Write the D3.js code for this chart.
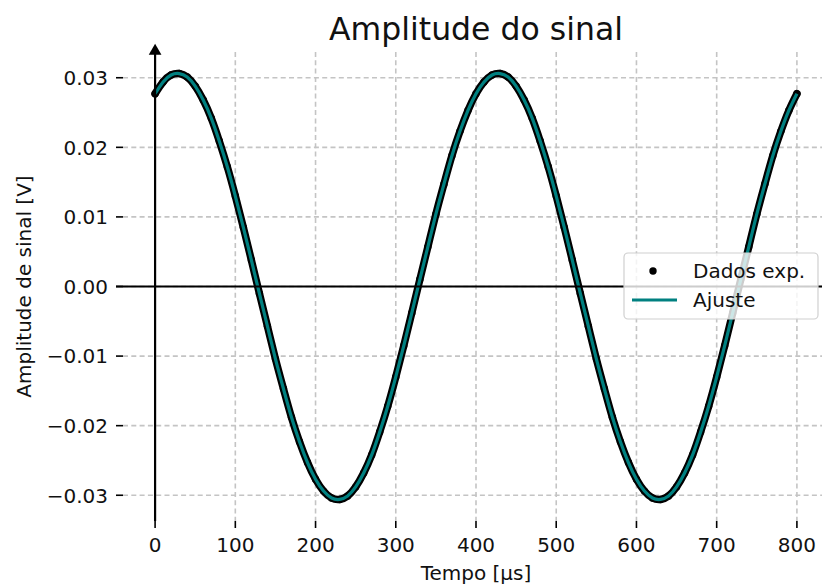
<!DOCTYPE html>
<html>
<head>
<meta charset="utf-8">
<script src="https://cdn.jsdelivr.net/npm/d3@7"></script>
<style>
  body { margin: 0; background: #fff; }
  svg { display: block; font-family: "DejaVu Sans", sans-serif; }
</style>
</head>
<body>
<div id="chart"></div>
<script>
// tempo [µs]
const tempo = [
  0, 10, 20, 30, 40, 50, 60, 70, 80, 90,
  100, 110, 120, 130, 140, 150, 160, 170, 180, 190,
  200, 210, 220, 230, 240, 250, 260, 270, 280, 290,
  300, 310, 320, 330, 340, 350, 360, 370, 380, 390,
  400, 410, 420, 430, 440, 450, 460, 470, 480, 490,
  500, 510, 520, 530, 540, 550, 560, 570, 580, 590,
  600, 610, 620, 630, 640, 650, 660, 670, 680, 690,
  700, 710, 720, 730, 740, 750, 760, 770, 780, 790,
  800
];

// amplitude [V]
const dadosExp = [
  0.0277, 0.0294, 0.0304, 0.0306, 0.0301, 0.0288, 0.0268, 0.0242, 0.0209, 0.0172,
  0.0130, 0.0085, 0.0038, -0.0010, -0.0057, -0.0104, -0.0147, -0.0188, -0.0223, -0.0253,
  -0.0277, -0.0294, -0.0304, -0.0306, -0.0301, -0.0288, -0.0268, -0.0242, -0.0209, -0.0172,
  -0.0130, -0.0085, -0.0038, 0.0010, 0.0057, 0.0104, 0.0147, 0.0188, 0.0223, 0.0253,
  0.0277, 0.0294, 0.0304, 0.0306, 0.0301, 0.0288, 0.0268, 0.0242, 0.0209, 0.0172,
  0.0130, 0.0085, 0.0038, -0.0010, -0.0057, -0.0104, -0.0147, -0.0188, -0.0223, -0.0253,
  -0.0277, -0.0294, -0.0304, -0.0306, -0.0301, -0.0288, -0.0268, -0.0242, -0.0209, -0.0172,
  -0.0130, -0.0085, -0.0038, 0.0010, 0.0057, 0.0104, 0.0147, 0.0188, 0.0223, 0.0253,
  0.0277
];

const ajuste = [
  0.0277, 0.0294, 0.0304, 0.0306, 0.0301, 0.0288, 0.0268, 0.0242, 0.0209, 0.0172,
  0.0130, 0.0085, 0.0038, -0.0010, -0.0057, -0.0104, -0.0147, -0.0188, -0.0223, -0.0253,
  -0.0277, -0.0294, -0.0304, -0.0306, -0.0301, -0.0288, -0.0268, -0.0242, -0.0209, -0.0172,
  -0.0130, -0.0085, -0.0038, 0.0010, 0.0057, 0.0104, 0.0147, 0.0188, 0.0223, 0.0253,
  0.0277, 0.0294, 0.0304, 0.0306, 0.0301, 0.0288, 0.0268, 0.0242, 0.0209, 0.0172,
  0.0130, 0.0085, 0.0038, -0.0010, -0.0057, -0.0104, -0.0147, -0.0188, -0.0223, -0.0253,
  -0.0277, -0.0294, -0.0304, -0.0306, -0.0301, -0.0288, -0.0268, -0.0242, -0.0209, -0.0172,
  -0.0130, -0.0085, -0.0038, 0.0010, 0.0057, 0.0104, 0.0147, 0.0188, 0.0223, 0.0253,
  0.0277
];

const xTicks = [0, 100, 200, 300, 400, 500, 600, 700, 800];
const yTicks = [-0.03, -0.02, -0.01, 0.00, 0.01, 0.02, 0.03];

const width = 822, height = 585;
const margin = { left: 123, right: -7, top: 52, bottom: 64 };
const teal = "#008080";

const svg = d3.select("#chart").append("svg")
  .attr("width", width)
  .attr("height", height);

const x = d3.scaleLinear()
  .domain([-40, 840])
  .range([margin.left, width - margin.right]);

const y = d3.scaleLinear()
  .domain([-0.0337, 0.0337])
  .range([height - margin.bottom, margin.top]);

const fmtY = d3.format(".2f");

// grid
const grid = svg.append("g")
  .attr("stroke", "#c4c4c4")
  .attr("stroke-width", 1.6)
  .attr("stroke-dasharray", "5,3.3");

grid.selectAll(".gx").data(xTicks).enter().append("line")
  .attr("x1", d => x(d)).attr("x2", d => x(d))
  .attr("y1", y.range()[1]).attr("y2", y.range()[0]);

grid.selectAll(".gy").data(yTicks).enter().append("line")
  .attr("y1", d => y(d)).attr("y2", d => y(d))
  .attr("x1", x.range()[0]).attr("x2", x.range()[1]);

// x ticks (no bottom spine)
const xAx = svg.append("g");
xAx.selectAll("line").data(xTicks).enter().append("line")
  .attr("x1", d => x(d)).attr("x2", d => x(d))
  .attr("y1", y.range()[0]).attr("y2", y.range()[0] + 7)
  .attr("stroke", "#000").attr("stroke-width", 1.6);
xAx.selectAll("text").data(xTicks).enter().append("text")
  .attr("x", d => x(d))
  .attr("y", y.range()[0] + 31)
  .attr("text-anchor", "middle")
  .attr("font-size", 20)
  .attr("fill", "#111")
  .text(d => d);

// y ticks
const yAx = svg.append("g");
yAx.selectAll("line").data(yTicks).enter().append("line")
  .attr("x1", x.range()[0] - 7).attr("x2", x.range()[0])
  .attr("y1", d => y(d)).attr("y2", d => y(d))
  .attr("stroke", "#000").attr("stroke-width", 1.6);
yAx.selectAll("text").data(yTicks).enter().append("text")
  .attr("x", x.range()[0] - 15)
  .attr("y", d => y(d) + 7.3)
  .attr("text-anchor", "end")
  .attr("font-size", 20)
  .attr("fill", "#111")
  .text(d => fmtY(d));

// data: experimental points + fit
const pts = tempo.map((t, i) => ({ t, v: dadosExp[i] }));
const fit = tempo.map((t, i) => ({ t, v: ajuste[i] }));

const line = d3.line()
  .x(d => x(d.t))
  .y(d => y(d.v))
  .curve(d3.curveNatural);

svg.append("path")
  .datum(pts)
  .attr("d", line)
  .attr("fill", "none")
  .attr("stroke", "#000")
  .attr("stroke-width", 7.5)
  .attr("stroke-linecap", "round");

svg.selectAll(".dot").data(pts).enter().append("circle")
  .attr("class", "dot")
  .attr("cx", d => x(d.t))
  .attr("cy", d => y(d.v))
  .attr("r", 3.7)
  .attr("fill", "#000");

svg.append("path")
  .datum(fit)
  .attr("d", line)
  .attr("fill", "none")
  .attr("stroke", teal)
  .attr("stroke-width", 3.2);

// zero line
svg.append("line")
  .attr("x1", x.range()[0] - 7).attr("x2", width)
  .attr("y1", y(0)).attr("y2", y(0))
  .attr("stroke", "#000").attr("stroke-width", 2);

// left spine at x = 0 with arrow
svg.append("line")
  .attr("x1", x(0)).attr("x2", x(0))
  .attr("y1", y.range()[0]).attr("y2", y.range()[1])
  .attr("stroke", "#000").attr("stroke-width", 2.2);

svg.append("path")
  .attr("d", d3.symbol(d3.symbolTriangle, 70)())
  .attr("transform", `translate(${x(0)},${y.range()[1] - 1})`)
  .attr("fill", "#000");

// title & labels
svg.append("text")
  .attr("x", (x.range()[0] + x.range()[1]) / 2)
  .attr("y", 39.5)
  .attr("text-anchor", "middle")
  .attr("font-size", 31.5)
  .attr("fill", "#111")
  .text("Amplitude do sinal");

svg.append("text")
  .attr("x", (x.range()[0] + x.range()[1]) / 2)
  .attr("y", 580)
  .attr("text-anchor", "middle")
  .attr("font-size", 20)
  .attr("fill", "#111")
  .text("Tempo [µs]");

svg.append("text")
  .attr("transform", `translate(31,${(y.range()[0] + y.range()[1]) / 2}) rotate(-90)`)
  .attr("text-anchor", "middle")
  .attr("font-size", 20)
  .attr("fill", "#111")
  .text("Amplitude de sinal [V]");

// legend
const leg = svg.append("g");
leg.append("rect")
  .attr("x", 624).attr("y", 253)
  .attr("width", 194).attr("height", 66)
  .attr("rx", 4)
  .attr("fill", "#fff").attr("fill-opacity", 0.8)
  .attr("stroke", "#d0d0d0").attr("stroke-width", 1.2);
leg.append("circle")
  .attr("cx", 653).attr("cy", 271).attr("r", 3.7).attr("fill", "#000");
leg.append("text")
  .attr("x", 693).attr("y", 278)
  .attr("font-size", 20).attr("fill", "#111")
  .text("Dados exp.");
leg.append("line")
  .attr("x1", 632).attr("x2", 677)
  .attr("y1", 300).attr("y2", 300)
  .attr("stroke", teal).attr("stroke-width", 3.2);
leg.append("text")
  .attr("x", 693).attr("y", 307)
  .attr("font-size", 20).attr("fill", "#111")
  .text("Ajuste");
</script>
</body>
</html>
